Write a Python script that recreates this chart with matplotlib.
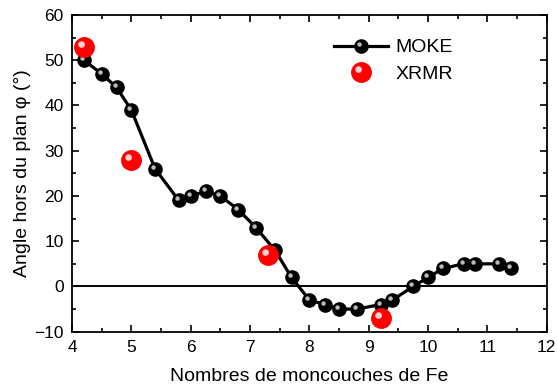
import matplotlib.pyplot as plt
from matplotlib.path import Path
from matplotlib.legend_handler import HandlerTuple

plt.rcParams['font.family'] = ['Liberation Sans', 'DejaVu Sans']

moke_x = [4.2, 4.5, 4.75, 5.0, 5.4, 5.8, 6.0, 6.25, 6.5, 6.8, 7.1, 7.42, 7.7,
          8.0, 8.26, 8.5, 8.8, 9.2, 9.4, 9.75, 10.0, 10.26, 10.6, 10.8, 11.2, 11.4]
moke_y = [50, 47, 44, 39, 26, 19, 20, 21, 20, 17, 13, 8, 2,
          -3, -4, -5, -5, -4, -3, 0, 2, 4, 5, 5, 5, 4]
xrmr_x = [4.2, 5.0, 7.3, 9.2]
xrmr_y = [53, 28, 7, -7]

# shifted circle for the little glossy highlight on the spheres
shine = Path.circle((-1.4, 1.4), 1.6)

fig = plt.figure(figsize=(5.57, 3.9), dpi=100)
ax = fig.add_axes([0.1293, 0.1495, 0.8522, 0.812])

ax.axhline(0, color='black', lw=1.4, zorder=1)

moke, = ax.plot(moke_x, moke_y, color='black', lw=2.3, marker='o', ms=9.5,
                mfc='black', mec='black', zorder=3)
moke_hl, = ax.plot(moke_x, moke_y, ls='none', marker=shine, ms=6.0, mfc='#bbbbbb',
                   mec='none', zorder=4)

xrmr, = ax.plot(xrmr_x, xrmr_y, ls='none', marker='o', ms=14, mfc='#ff0000',
                mec='#ff0000', zorder=5)
xrmr_hl, = ax.plot(xrmr_x, xrmr_y, ls='none', marker=shine, ms=9, mfc='#ffd0d0',
                   mec='none', zorder=6)

ax.set_xlim(4, 12)
ax.set_ylim(-10, 60)
ax.set_xticks(range(4, 13))
ax.set_yticks(range(-10, 61, 10))
ax.set_xticks([x + 0.5 for x in range(4, 12)], minor=True)
ax.set_yticks(range(-5, 60, 10), minor=True)
ax.tick_params(which='both', direction='in', top=True, right=True, labelsize=12.5, width=1.2)
ax.tick_params(which='major', length=5, pad=6)
ax.tick_params(which='minor', length=3)
for s in ax.spines.values():
    s.set_linewidth(1.3)

ax.set_xlabel('Nombres de moncouches de Fe', fontsize=14, labelpad=9)
ax.set_ylabel('Angle hors du plan φ (°)', fontsize=14, labelpad=2)

ax.legend([(moke, moke_hl), (xrmr, xrmr_hl)], ['MOKE', 'XRMR'],
          handler_map={tuple: HandlerTuple(ndivide=1)},
          loc='upper right', bbox_to_anchor=(0.84, 0.98), frameon=False,
          fontsize=14, handlelength=2.8, handletextpad=0.4, labelspacing=0.45)

fig.savefig('out.png', dpi=100)
